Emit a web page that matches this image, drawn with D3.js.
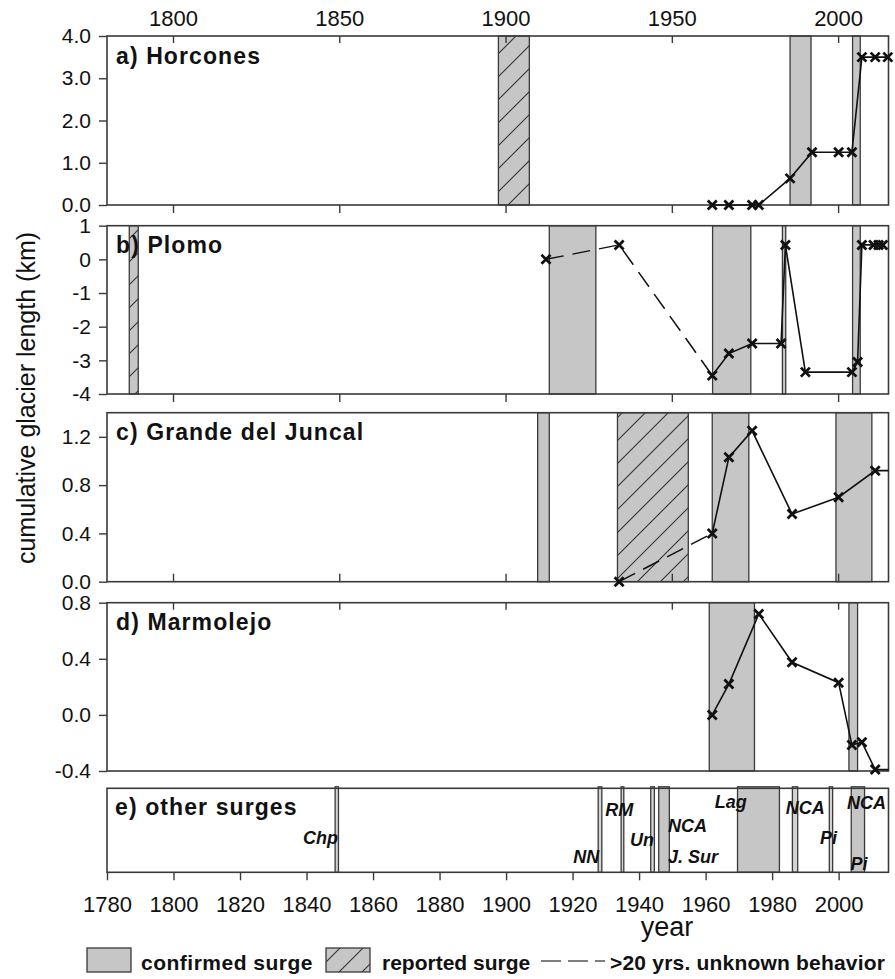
<!DOCTYPE html>
<html>
<head>
<meta charset="utf-8">
<script src="https://cdn.jsdelivr.net/npm/d3@7"></script>
<style>
  body { margin: 0; background: #fff; }
  svg text { font-family: "Liberation Sans", Arial, sans-serif; fill: #111; }
</style>
</head>
<body>
<div id="chart"></div>
<script>
// ---- data ----
var horconesYears = [1962, 1967, 1974, 1976, 1985.4, 1992, 2000, 2004, 2007, 2011, 2014.8];
var horconesLength = [0, 0, 0, 0, 0.63, 1.25, 1.25, 1.25, 3.5, 3.5, 3.5];
var horconesConfirmed = [[1985.4, 1991.7], [2004.2, 2006.5]];
var horconesReported = [[1897.7, 1907]];

var plomoYears = [1912, 1934, 1962, 1967, 1974, 1982.7, 1984, 1990, 2004, 2005.7, 2007, 2010.5, 2012, 2013.3];
var plomoLength = [0, 0.43, -3.45, -2.8, -2.5, -2.5, 0.43, -3.35, -3.35, -3.05, 0.43, 0.43, 0.43, 0.43];
var plomoConfirmed = [[1913, 1927], [1962.1, 1973.6], [1983.1, 1984.1], [2004.2, 2006.5]];
var plomoReported = [[1786.7, 1789.4]];

var juncalYears = [1934, 1962, 1967, 1974, 1986, 2000, 2011, 2015];
var juncalLength = [0, 0.4, 1.03, 1.25, 0.56, 0.7, 0.92, 0.92];
var juncalConfirmed = [[1909.5, 1913], [1962, 1973], [1999.2, 2010]];
var juncalReported = [[1933.5, 1954.8]];

var marmolejoYears = [1962, 1967, 1976, 1986, 2000, 2004, 2007, 2011, 2015];
var marmolejoLength = [0, 0.22, 0.72, 0.375, 0.23, -0.215, -0.195, -0.39, -0.39];
var marmolejoConfirmed = [[1961.1, 1974.7], [2003.1, 2005.7]];

var otherNames = ["Chp", "NN", "RM", "Un", "NCA", "Lag", "NCA", "Pi", "NCA"];
var otherStart = [1848.6, 1927.7, 1934.6, 1943.5, 1945.9, 1969.6, 1986.1, 1997.2, 2003.8];
var otherEnd   = [1849.6, 1928.8, 1935.4, 1944.6, 1949.1, 1982.2, 1987.7, 1998.2, 2007.8];

var topTicks = [1800, 1850, 1900, 1950, 2000];
var bottomTicks = d3.range(1780, 2001, 20);

// ---- layout ----
var width = 895, height = 979;
var grey = "#c6c6c6", edge = "#3a3a3a";

var x = d3.scaleLinear().domain([1780, 2015]).range([107, 888.5]);

// plain hyphen for negatives, like the original
function hy(f) { return d => f(d).replace("\u2212", "-"); }

var panels = [
  {id: "a", title: "a) Horcones", top: 36, bottom: 205, domain: [0, 4], ticks: [0, 1, 2, 3, 4], fmt: hy(d3.format(".1f")),
   years: horconesYears, vals: horconesLength, dashed: 0, noMarkEnd: false,
   confirmed: horconesConfirmed, reported: horconesReported, tickTop: "in", tickBottom: "out"},
  {id: "b", title: "b) Plomo", top: 225.7, bottom: 394, domain: [-4, 1], ticks: [-4, -3, -2, -1, 0, 1], fmt: hy(d3.format("d")),
   years: plomoYears, vals: plomoLength, dashed: 2, noMarkEnd: false,
   confirmed: plomoConfirmed, reported: plomoReported, tickTop: null, tickBottom: "out"},
  {id: "c", title: "c) Grande del Juncal", top: 412.7, bottom: 581.7, domain: [0, 1.4], ticks: [0, 0.4, 0.8, 1.2], fmt: hy(d3.format(".1f")),
   years: juncalYears, vals: juncalLength, dashed: 1, noMarkEnd: true,
   confirmed: juncalConfirmed, reported: juncalReported, tickTop: null, tickBottom: "in"},
  {id: "d", title: "d) Marmolejo", top: 602.7, bottom: 771, domain: [-0.4, 0.8], ticks: [-0.4, 0, 0.4, 0.8], fmt: hy(d3.format(".1f")),
   years: marmolejoYears, vals: marmolejoLength, dashed: 0, noMarkEnd: true,
   confirmed: marmolejoConfirmed, reported: [], tickTop: "in", tickBottom: null}
];

var svg = d3.select("#chart").append("svg")
  .attr("width", width)
  .attr("height", height);

// hatch pattern
var defs = svg.append("defs");
var pat = defs.append("pattern")
  .attr("id", "hatch")
  .attr("patternUnits", "userSpaceOnUse")
  .attr("width", 23).attr("height", 23);
pat.append("rect").attr("width", 23).attr("height", 23).attr("fill", grey);
pat.append("path")
  .attr("d", "M0,23 L23,0 M-6,6 L6,-6 M17,29 L29,17")
  .attr("stroke", "#333").attr("stroke-width", 1.1);

var left = x.range()[0], right = x.range()[1];

function drawBand(g, span, y0, y1, fill) {
  g.append("rect")
    .attr("x", x(span[0]))
    .attr("y", y0)
    .attr("width", x(span[1]) - x(span[0]))
    .attr("height", y1 - y0)
    .attr("fill", fill)
    .attr("stroke", edge)
    .attr("stroke-width", 1.3);
}

panels.forEach(function(p) {
  var g = svg.append("g").attr("class", "panel-" + p.id);
  var y = d3.scaleLinear().domain(p.domain).range([p.bottom, p.top]);

  p.confirmed.forEach(s => drawBand(g, s, p.top, p.bottom, grey));
  p.reported.forEach(s => drawBand(g, s, p.top, p.bottom, "url(#hatch)"));

  // frame
  g.append("rect")
    .attr("x", left).attr("y", p.top)
    .attr("width", right - left).attr("height", p.bottom - p.top)
    .attr("fill", "none").attr("stroke", edge).attr("stroke-width", 1.6);

  // y axis
  var yAxis = d3.axisLeft(y).tickValues(p.ticks).tickFormat(p.fmt).tickSize(8).tickPadding(8);
  var gy = g.append("g").attr("transform", "translate(" + left + ",0)").call(yAxis);
  gy.select(".domain").remove();
  gy.selectAll("line").attr("stroke", edge).attr("stroke-width", 1.4);
  gy.selectAll("text").attr("font-size", 21).attr("fill", "#111")
    .attr("font-family", "Liberation Sans, Arial, sans-serif");

  // x ticks on the frame
  if (p.tickTop) {
    g.selectAll(".tt").data(topTicks).enter().append("line")
      .attr("x1", d => x(d)).attr("x2", d => x(d))
      .attr("y1", p.top).attr("y2", p.top + (p.tickTop == "in" ? 7 : -7))
      .attr("stroke", edge).attr("stroke-width", 1.4);
  }
  if (p.tickBottom) {
    g.selectAll(".tb").data(topTicks).enter().append("line")
      .attr("x1", d => x(d)).attr("x2", d => x(d))
      .attr("y1", p.bottom).attr("y2", p.bottom + (p.tickBottom == "in" ? -8 : 8))
      .attr("stroke", edge).attr("stroke-width", 1.4);
  }

  // series line, first p.dashed segments dashed
  var pts = p.years.map((d, i) => [d, p.vals[i]]);
  var line = d3.line().x(d => x(d[0])).y(d => y(d[1]));
  if (p.dashed > 0) {
    g.append("path")
      .attr("d", line(pts.slice(0, p.dashed + 1)))
      .attr("fill", "none").attr("stroke", "#111").attr("stroke-width", 1.5)
      .attr("stroke-dasharray", "18,9");
  }
  g.append("path")
    .attr("d", line(pts.slice(p.dashed)))
    .attr("fill", "none").attr("stroke", "#111").attr("stroke-width", 1.6);

  var markPts = p.noMarkEnd ? pts.slice(0, -1) : pts;
  g.selectAll(".mk").data(markPts).enter().append("path")
    .attr("transform", d => "translate(" + x(d[0]) + "," + y(d[1]) + ")")
    .attr("d", "M-4.5,-4.5L4.5,4.5M-4.5,4.5L4.5,-4.5")
    .attr("stroke", "#111").attr("stroke-width", 2.8).attr("fill", "none");

  g.append("text")
    .attr("x", left + 9)
    .attr("y", p.top + 27.5)
    .attr("font-size", 23).attr("font-weight", "bold")
    .attr("letter-spacing", 1.1)
    .text(p.title);
});

// top axis labels
svg.selectAll(".toplab").data(topTicks).enter().append("text")
  .attr("x", d => x(d)).attr("y", 26)
  .attr("text-anchor", "middle").attr("font-size", 22)
  .text(d => d);

// ---- panel e: other surges ----
var eTop = 788.3, eBottom = 872.3;
var ge = svg.append("g").attr("class", "panel-e");
otherStart.forEach(function(s, i) {
  var wide = otherEnd[i] - s > 2;
  drawBand(ge, [s, otherEnd[i]], eTop - 1.5, eBottom, wide ? grey : "#d4d4d4");
});
ge.append("rect")
  .attr("x", left).attr("y", eTop)
  .attr("width", right - left).attr("height", eBottom - eTop)
  .attr("fill", "none").attr("stroke", edge).attr("stroke-width", 1.6);

// label placement: [text, year, offset below panel top, anchor]
var otherLabels = [
  ["Chp", 1849.5, 55.7, "end"], ["NN", 1928.0, 75, "end"], ["RM", 1929.8, 27.4, "start"],
  ["Un", 1944.5, 57.7, "end"], ["NCA", 1948.7, 43.4, "start"], ["J. Sur", 1948.7, 74.4, "start"],
  ["Lag", 1972.4, 19.7, "end"], ["NCA", 1984.1, 25.7, "start"], ["Pi", 1999.5, 55.7, "end"],
  ["NCA", 2002.5, 20.7, "start"], ["Pi", 2003.6, 81.7, "start"]
];
ge.selectAll(".olab").data(otherLabels).enter().append("text")
  .attr("x", d => x(d[1])).attr("y", d => eTop + d[2])
  .attr("text-anchor", d => d[3])
  .attr("font-size", 18).attr("font-weight", "bold").attr("font-style", "italic")
  .text(d => d[0]);

ge.append("text")
  .attr("x", left + 8).attr("y", eTop + 27)
  .attr("font-size", 23).attr("font-weight", "bold").attr("letter-spacing", 1.1)
  .text("e) other surges");

var xAxis = d3.axisBottom(x).tickValues(bottomTicks).tickFormat(d3.format("d")).tickSize(8).tickPadding(16);
var gx = svg.append("g").attr("transform", "translate(0," + eBottom + ")").call(xAxis);
gx.select(".domain").remove();
gx.selectAll("line").attr("stroke", edge).attr("stroke-width", 1.4);
gx.selectAll("text").attr("font-size", 22).attr("fill", "#111")
  .attr("font-family", "Liberation Sans, Arial, sans-serif");

// axis titles
svg.append("text")
  .attr("x", 667).attr("y", 936)
  .attr("text-anchor", "middle").attr("font-size", 27)
  .text("year");

svg.append("text")
  .attr("transform", "translate(35,398) rotate(-90)")
  .attr("text-anchor", "middle").attr("font-size", 25)
  .text("cumulative glacier length (km)");

// ---- legend ----
var lg = svg.append("g").attr("class", "legend");
lg.append("rect").attr("x", 87).attr("y", 948).attr("width", 44).attr("height", 24)
  .attr("fill", grey).attr("stroke", edge).attr("stroke-width", 1.3);
lg.append("text").attr("x", 141).attr("y", 970).attr("font-size", 21).attr("font-weight", "bold")
  .attr("letter-spacing", 0.5).text("confirmed surge");
lg.append("rect").attr("x", 326).attr("y", 948).attr("width", 44).attr("height", 24)
  .attr("fill", "url(#hatch)").attr("stroke", edge).attr("stroke-width", 1.3);
lg.append("text").attr("x", 382).attr("y", 970).attr("font-size", 21).attr("font-weight", "bold")
  .text("reported surge");
lg.append("line").attr("x1", 541).attr("x2", 605).attr("y1", 961).attr("y2", 961)
  .attr("stroke", "#555").attr("stroke-width", 1.5).attr("stroke-dasharray", "20,7");
lg.append("text").attr("x", 610).attr("y", 970).attr("font-size", 21).attr("font-weight", "bold")
  .attr("letter-spacing", 0.2).text(">20 yrs. unknown behavior");
</script>
</body>
</html>
